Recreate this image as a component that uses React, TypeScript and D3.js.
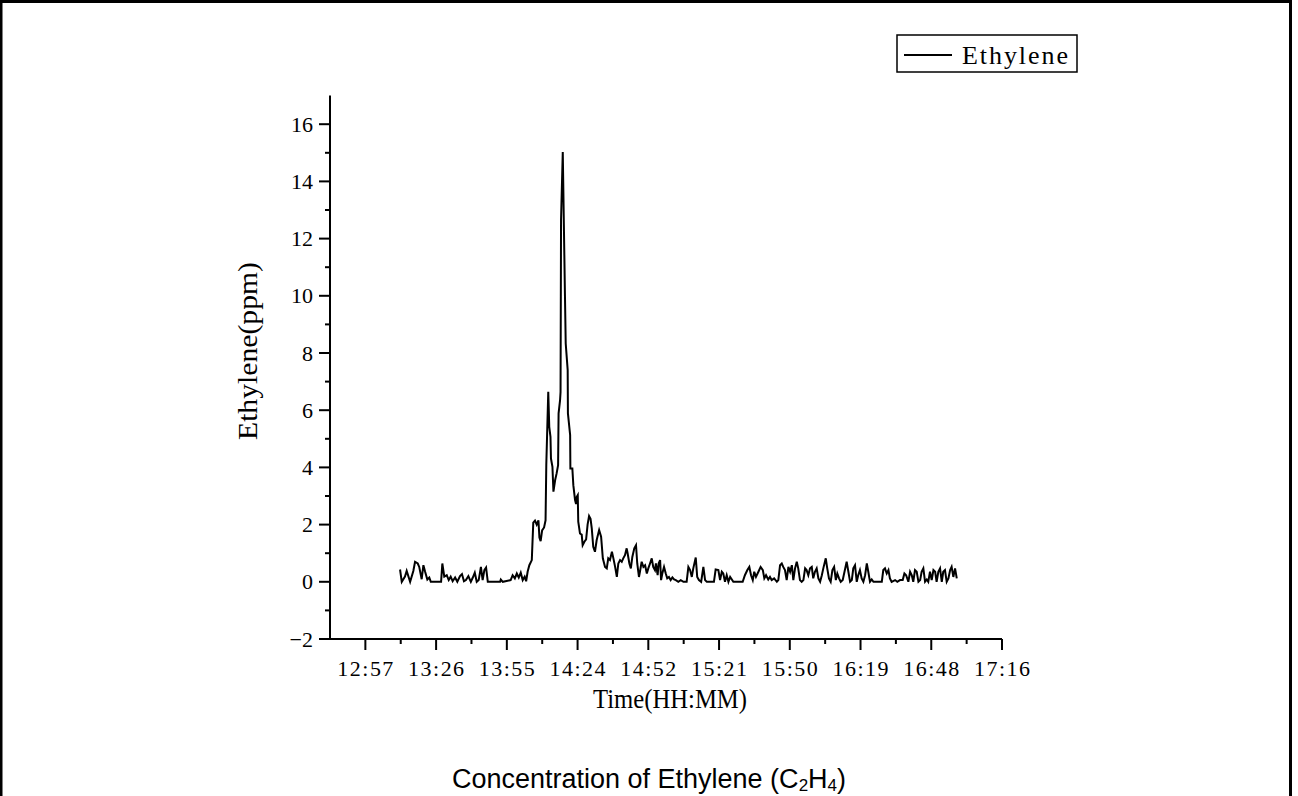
import React from 'react';
import * as d3 from 'd3';

// ---- data (time in minutes since midnight, ethylene in ppm) ----
const timeMin = [
  791.1, 791.8, 793.1, 793.8, 795.2, 796.5, 797.2, 798.3, 798.9, 799.9,
  800.6, 801.3, 802.2, 803.0, 803.6, 807.8, 808.3, 809.1, 810.1, 810.9,
  811.7, 812.5, 813.5, 814.4, 815.5, 816.3, 817.1, 817.9, 818.9, 819.9,
  820.7, 821.5, 822.3, 823.1, 824.0, 824.7, 825.4, 826.1, 826.8, 831.8,
  832.1, 832.9, 836.1, 836.9, 837.8, 838.6, 839.4, 840.2, 841.0, 841.8,
  842.4, 843.0, 843.7, 844.7, 845.3, 846.0, 846.7, 847.4, 847.8, 848.3,
  848.9, 849.7, 850.3, 850.6, 851.4, 851.8, 852.3, 852.5, 853.1, 853.5,
  854.2, 854.8, 855.4, 855.6, 856.2, 856.4, 856.6, 857.3, 858.2, 858.5,
  859.3, 859.4, 860.3, 860.4, 861.2, 861.6, 862.3, 862.7, 863.0, 863.4,
  863.6, 864.3, 865.0, 865.4, 866.1, 866.8, 867.4, 868.0, 868.6, 869.1,
  869.7, 870.4, 871.1, 872.1, 872.9, 873.6, 874.5, 875.2, 875.8, 876.5,
  877.3, 877.9, 878.6, 879.3, 879.9, 880.6, 881.3, 881.9, 882.6, 883.3,
  883.7, 884.4, 885.0, 885.6, 886.4, 887.1, 887.6, 888.3, 888.7, 889.4,
  890.1, 890.8, 891.5, 892.1, 892.8, 893.5, 894.1, 894.8, 895.2, 895.9,
  896.3, 896.9, 897.3, 897.8, 898.5, 899.2, 899.8, 900.5, 901.2, 901.9,
  902.6, 903.3, 904.3, 905.3, 906.4, 907.7, 908.4, 909.1, 909.8, 910.4,
  911.4, 912.0, 912.7, 913.6, 914.5, 915.2, 915.9, 918.8, 919.5, 920.6,
  921.3, 922.0, 922.6, 923.3, 924.0, 924.7, 925.4, 926.7, 930.5, 931.4,
  932.4, 933.2, 933.9, 934.6, 935.2, 935.9, 936.9, 937.8, 938.7, 939.3,
  940.0, 940.9, 941.6, 942.3, 943.3, 944.4, 945.0, 945.7, 946.4, 947.0,
  947.7, 948.4, 949.1, 949.8, 950.5, 951.1, 951.8, 952.5, 953.1, 953.8,
  954.5, 955.2, 955.9, 956.5, 957.2, 957.9, 958.6, 959.2, 959.9, 960.6,
  961.3, 962.0, 962.7, 963.3, 964.3, 964.9, 965.6, 966.3, 967.0, 967.7,
  968.4, 969.0, 969.7, 970.4, 971.2, 972.8, 973.5, 974.2, 974.9, 975.5,
  976.2, 976.9, 977.5, 978.2, 978.9, 979.6, 980.3, 981.0, 981.6, 982.3,
  983.0, 983.7, 987.1, 987.7, 988.4, 989.1, 989.8, 990.4, 991.1, 992.5,
  993.4, 994.5, 995.6, 996.3, 997.0, 997.9, 998.6, 999.3, 999.9, 1000.6,
  1001.3, 1002.0, 1002.7, 1003.3, 1004.0, 1004.7, 1005.4, 1006.0, 1006.7, 1007.4,
  1008.1, 1008.8, 1009.4, 1010.1, 1010.8, 1011.5, 1012.1, 1012.8, 1013.5, 1014.2,
  1014.9, 1015.5, 1016.2, 1016.9, 1017.6,
];

const ppm = [
  0.43, 0.0, 0.18, 0.38, 0.0, 0.38, 0.70, 0.64, 0.52, 0.09,
  0.58, 0.35, 0.08, 0.15, 0.0, 0.0, 0.64, 0.18, 0.23, 0.06,
  0.18, 0.02, 0.15, 0.0, 0.20, 0.27, 0.02, 0.06, 0.20, 0.0,
  0.15, 0.32, 0.0, 0.06, 0.52, 0.06, 0.41, 0.50, 0.0, 0.0,
  0.08, 0.0, 0.06, 0.23, 0.12, 0.29, 0.15, 0.32, 0.06, 0.18,
  0.02, 0.35, 0.58, 0.76, 2.07, 2.14, 2.00, 2.15, 1.55, 1.42,
  1.80, 1.90, 2.15, 4.10, 6.64, 5.42, 5.07, 4.31, 4.02, 3.15,
  3.56, 3.79, 4.08, 5.89, 6.35, 6.64, 12.65, 15.03, 9.97, 8.33,
  7.40, 5.89, 5.13, 3.96, 3.96, 3.38, 2.86, 2.72, 2.97, 3.03,
  2.10, 1.69, 1.65, 1.28, 1.40, 1.48, 2.00, 2.30, 2.20, 1.87,
  1.22, 1.05, 1.46, 1.81, 1.58, 0.82, 0.52, 0.47, 0.82, 0.76,
  1.05, 0.82, 0.52, 0.17, 0.64, 0.76, 0.70, 0.82, 0.93, 1.17,
  0.99, 0.64, 0.47, 0.87, 1.17, 1.28, 0.64, 0.17, 0.35, 0.70,
  0.52, 0.58, 0.29, 0.47, 0.64, 0.82, 0.52, 0.41, 0.64, 0.23,
  0.64, 0.76, 0.06, 0.29, 0.52, 0.29, 0.12, 0.17, 0.06, 0.15,
  0.08, 0.06, 0.0, 0.06, 0.0, 0.0, 0.52, 0.41, 0.17, 0.47,
  0.85, 0.17, 0.06, 0.0, 0.52, 0.06, 0.0, 0.0, 0.43, 0.41,
  0.06, 0.35, 0.29, 0.0, 0.23, 0.0, 0.17, 0.0, 0.0, 0.23,
  0.41, 0.52, 0.23, 0.06, 0.35, 0.17, 0.35, 0.52, 0.41, 0.12,
  0.23, 0.08, 0.17, 0.06, 0.12, 0.0, 0.06, 0.58, 0.64, 0.52,
  0.41, 0.06, 0.52, 0.35, 0.58, 0.06, 0.47, 0.70, 0.47, 0.06,
  0.0, 0.06, 0.47, 0.41, 0.23, 0.47, 0.52, 0.12, 0.35, 0.47,
  0.12, 0.0, 0.23, 0.47, 0.82, 0.47, 0.12, 0.0, 0.41, 0.52,
  0.06, 0.29, 0.12, 0.0, 0.06, 0.70, 0.35, 0.0, 0.06, 0.47,
  0.58, 0.0, 0.23, 0.41, 0.12, 0.0, 0.23, 0.64, 0.35, 0.0,
  0.08, 0.0, 0.0, 0.41, 0.47, 0.29, 0.41, 0.12, 0.0, 0.06,
  0.0, 0.06, 0.06, 0.29, 0.23, 0.0, 0.35, 0.23, 0.0, 0.41,
  0.35, 0.0, 0.06, 0.35, 0.47, 0.0, 0.08, 0.0, 0.35, 0.06,
  0.41, 0.35, 0.0, 0.35, 0.47, 0.0, 0.35, 0.41, 0.0, 0.12,
  0.41, 0.52, 0.17, 0.47, 0.12,
];

// axis domains / ticks
const X_MIN = 762.6; // minutes
const X_MAX = 1036.0;
const xTickLabels = ['12:57', '13:26', '13:55', '14:24', '14:52', '15:21', '15:50', '16:19', '16:48', '17:16'];
const Y_MIN = -2;
const Y_MAX = 17;
const yMajorTicks = [-2, 0, 2, 4, 6, 8, 10, 12, 14, 16];
const yMinorTicks = [-1, 1, 3, 5, 7, 9, 11, 13, 15];

const seriesName = 'Ethylene';
const xTitle = 'Time(HH:MM)';
const yTitle = 'Ethylene(ppm)';

const W = 1298;
const H = 796;
const SERIF = '"Liberation Serif", "DejaVu Serif", serif';
const SANS = '"Liberation Sans", Arial, sans-serif';

export default function App() {
  const left = 330, right = 1002, top = 95.6, bottom = 639;
  const x = d3.scaleLinear().domain([X_MIN, X_MAX]).range([left, right]);
  const y = d3.scaleLinear().domain([Y_MIN, Y_MAX]).range([bottom, top]);

  const step = (X_MAX - X_MIN) / (xTickLabels.length - 0.5);
  const xMajor = xTickLabels.map((_, k) => X_MIN + step * (k + 0.5));
  const xMinor = xTickLabels.map((_, k) => X_MIN + step * k).slice(1);

  const pts = timeMin.map((t, i) => [t, ppm[i]] as [number, number]);
  const line = d3.line<[number, number]>().x(d => x(d[0])).y(d => y(d[1]));

  return (
    <div style={{ position: 'absolute', left: 0, top: 0 }}>
      <svg width={W} height={H} style={{ display: 'block', background: '#fff' }}>
        <rect x={1} y={1.5} width={1289.5} height={820} fill="#fff" stroke="#000" strokeWidth={3} />

        {/* axes */}
        <line x1={left} x2={left} y1={top} y2={bottom + 1} stroke="#000" strokeWidth={2} />
        <line x1={left - 1} x2={right} y1={bottom} y2={bottom} stroke="#000" strokeWidth={2} />

        {/* y ticks */}
        {yMajorTicks.map(v => (
          <g key={'ym' + v}>
            <line x1={left - 11} x2={left} y1={y(v)} y2={y(v)} stroke="#000" strokeWidth={2} />
            <text x={313} y={y(v) + 7.5} textAnchor="end" fontFamily={SERIF} fontSize={22} fill="#000">
              {String(v).replace('-', '\u2212')}
            </text>
          </g>
        ))}
        {yMinorTicks.map(v => (
          <line key={'yn' + v} x1={left - 5} x2={left} y1={y(v)} y2={y(v)} stroke="#000" strokeWidth={2} />
        ))}

        {/* x ticks */}
        {xMajor.map((t, k) => (
          <g key={'xm' + k}>
            <line x1={x(t)} x2={x(t)} y1={bottom} y2={bottom + 11} stroke="#000" strokeWidth={2} />
            <text x={x(t)} y={676} textAnchor="middle" fontFamily={SERIF} fontSize={22} fill="#000"
              textLength={56} lengthAdjust="spacing">
              {xTickLabels[k]}
            </text>
          </g>
        ))}
        {xMinor.map((t, k) => (
          <line key={'xn' + k} x1={x(t)} x2={x(t)} y1={bottom} y2={bottom + 5} stroke="#000" strokeWidth={2} />
        ))}

        {/* data */}
        <path d={line(pts) || ''} fill="none" stroke="#000" strokeWidth={2} strokeLinejoin="miter" />

        {/* axis titles */}
        <text x={670} y={708} textAnchor="middle" fontFamily={SERIF} fontSize={27} fill="#000"
          textLength={154} lengthAdjust="spacingAndGlyphs">
          {xTitle}
        </text>
        <text transform="translate(257,351) rotate(-90)" textAnchor="middle" fontFamily={SERIF} fontSize={27}
          fill="#000" textLength={178} lengthAdjust="spacingAndGlyphs">
          {yTitle}
        </text>

        {/* legend */}
        <rect x={897} y={35} width={180} height={37} fill="#fff" stroke="#000" strokeWidth={1.5} />
        <line x1={904} x2={952} y1={55} y2={55} stroke="#000" strokeWidth={2} />
        <text x={962} y={64} fontFamily={SERIF} fontSize={26} fill="#000" textLength={106} lengthAdjust="spacing">
          {seriesName}
        </text>

        {/* caption */}
        <text x={649} y={788} textAnchor="middle" fontFamily={SANS} fontSize={27} fill="#000">
          Concentration of Ethylene (C<tspan fontSize={17} dy={3}>2</tspan>
          <tspan dy={-3}>H</tspan><tspan fontSize={17} dy={3}>4</tspan><tspan dy={-3}>)</tspan>
        </text>
      </svg>
    </div>
  );
}
